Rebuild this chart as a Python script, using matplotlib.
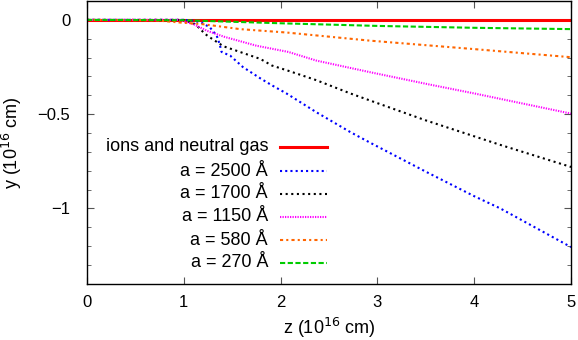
import matplotlib
matplotlib.use("Agg")
import matplotlib.pyplot as plt
from matplotlib.ticker import MultipleLocator

plt.rcParams['font.family'] = ['Liberation Sans', 'DejaVu Sans']

labels = ["ions and neutral gas", "a = 2500 Å", "a = 1700 Å", "a = 1150 Å", "a = 580 Å", "a = 270 Å"]

z_gas = [0.0, 5.0]
y_gas = [0.0, 0.0]

z_2500 = [0.0, 1.0, 1.1, 1.18, 1.27, 1.34, 1.37, 1.39, 1.48, 1.61, 1.79, 1.91, 2.06, 2.37, 2.72, 2.92, 3.5, 4.0, 4.27, 5.0]
y_2500 = [0.0, 0.0, -0.004, -0.014, -0.04, -0.084, -0.128, -0.17, -0.19, -0.25, -0.31, -0.347, -0.39, -0.49, -0.595, -0.65, -0.805, -0.935, -1.0, -1.205]

z_1700 = [0.0, 1.0, 1.12, 1.22, 1.29, 1.41, 1.58, 1.79, 1.91, 2.08, 2.37, 2.72, 3.1, 3.5, 4.27, 5.0]
y_1700 = [0.0, 0.0, -0.023, -0.075, -0.10, -0.14, -0.17, -0.207, -0.242, -0.27, -0.32, -0.39, -0.46, -0.533, -0.663, -0.78]

z_1150 = [0.0, 0.95, 1.1, 1.24, 1.42, 1.75, 2.08, 2.37, 2.92, 3.53, 4.0, 5.0]
y_1150 = [0.0, 0.0, -0.023, -0.058, -0.09, -0.137, -0.17, -0.216, -0.277, -0.342, -0.39, -0.497]

z_580 = [0.0, 0.7, 0.96, 1.2, 1.58, 2.06, 2.92, 4.0, 5.0]
y_580 = [0.0, -0.002, -0.014, -0.023, -0.049, -0.067, -0.11, -0.155, -0.198]

z_270 = [0.0, 1.0, 1.5, 2.0, 3.0, 4.0, 5.0]
y_270 = [0.0, -0.002, -0.01, -0.018, -0.032, -0.042, -0.049]

fig = plt.figure(figsize=(5.78, 3.40), dpi=100)
ax = fig.add_axes([0.1505, 0.165, 0.8375, 0.832])

styles = [
    dict(color='#ff0000', lw=2.2, ls='-'),
    dict(color='#0000ff', lw=1.5, ls=(0, (1, 1.5))),
    dict(color='#000000', lw=1.5, ls=(0, (1, 1.7))),
    dict(color='#ff00ff', lw=1.5, ls=(0, (0.6, 0.6))),
    dict(color='#ff6600', lw=1.5, ls=(0, (1.5, 1.5, 1, 1.5))),
    dict(color='#00cc00', lw=1.5, ls=(0, (2.5, 1.2))),
]
series = [(z_gas, y_gas), (z_2500, y_2500), (z_1700, y_1700),
          (z_1150, y_1150), (z_580, y_580), (z_270, y_270)]
for (zz, yy), st in zip(series, styles):
    ax.plot(zz, yy, **st)

ax.set_xlim(0, 5)
ax.set_ylim(-1.4, 0.1)
ax.yaxis.set_minor_locator(MultipleLocator(0.1))
ax.set_yticks([-1, -0.5, 0])
ax.set_yticklabels(['\u22121', '\u22120.5', '0'])
ax.set_xticks([0, 1, 2, 3, 4, 5])
ax.set_xticklabels(['0', '1', '2', '3', '4', '5'])
ax.tick_params(which='both', direction='in', top=True, right=True, labelsize=12, color='#555555')
ax.tick_params(axis='x', which='major', length=5, pad=8)
ax.tick_params(axis='y', which='major', length=5, pad=12)
ax.tick_params(which='minor', length=3)
for s in ax.spines.values():
    s.set_linewidth(1.0)

ax.set_xlabel('z (10$^{16}$ cm)', fontsize=13, labelpad=4)
ax.set_ylabel('y (10$^{16}$ cm)', fontsize=13, labelpad=10)

# manual key (gnuplot style: right-aligned text, sample to the right)
text_x = 0.374
samp_x0, samp_x1 = 0.399, 0.496
row_y = [0.484, 0.399, 0.318, 0.237, 0.155, 0.074]
for lab, st, yr in zip(labels, styles, row_y):
    ax.text(text_x, yr, lab, transform=ax.transAxes, ha='right', va='center', fontsize=13)
    ax.plot([samp_x0, samp_x1], [yr, yr], transform=ax.transAxes, **st)

fig.savefig('out.png', dpi=100)
